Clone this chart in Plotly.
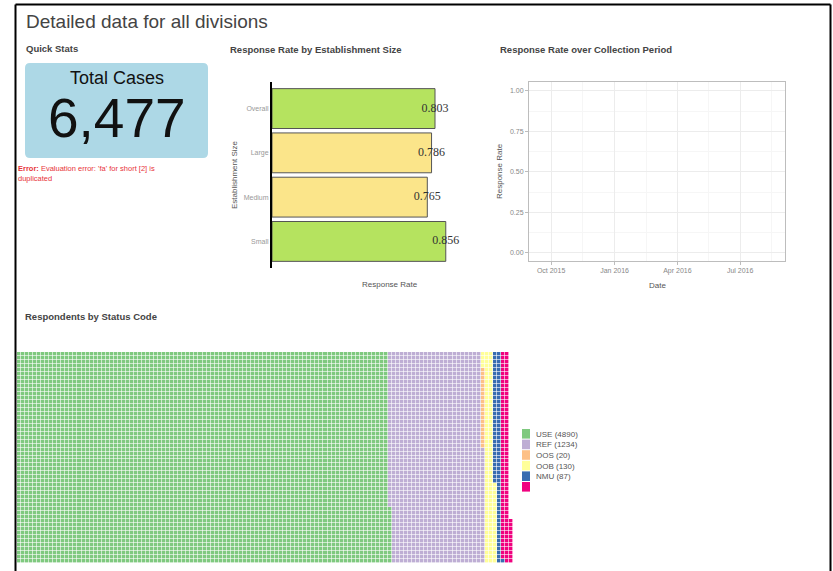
import plotly.graph_objects as go
import numpy as np

# ---------------- data ----------------
page_title = "Detailed data for all divisions"
total_cases = 6477

size_categories = ["Overall", "Large", "Medium", "Small"]
size_rates = [0.803, 0.786, 0.765, 0.856]
rate_threshold = 0.8

collection_dates = []      # no points drawn in the reference
collection_rates = []
date_ticks = ["2015-10-01", "2016-01-01", "2016-04-01", "2016-07-01"]
date_range = ["2015-08-30", "2016-09-04"]

status_codes = ["USE", "REF", "OOS", "OOB", "NMU", ""]
status_counts = [4890, 1234, 20, 130, 87, 116]
status_colors = ["#7fc97f", "#beaed4", "#fdc086", "#ffff99", "#386cb0", "#f0027f"]
waffle_rows = 53

# ---------------- helpers ----------------
W, H = 833, 571
def X(px): return px / W
def Y(py): return 1 - py / H
FONT = "Liberation Sans, Arial, sans-serif"

fig = go.Figure()

# ---- bar chart ----
bar_colors = ["#b5e35f" if r >= rate_threshold else "#fbe58a" for r in size_rates]
fig.add_trace(go.Bar(
    x=size_rates, y=size_categories, orientation="h",
    marker=dict(color=bar_colors, line=dict(color="#555555", width=1)),
    width=0.9, xaxis="x", yaxis="y", hoverinfo="skip", showlegend=False))
fig.add_trace(go.Scatter(
    x=size_rates, y=size_categories, mode="text",
    text=[f"{r:.3f}" for r in size_rates], textposition="middle center",
    textfont=dict(family="Liberation Serif, Times New Roman, serif", size=12, color="#333"),
    xaxis="x", yaxis="y", hoverinfo="skip", showlegend=False))

# ---- empty time series ----
fig.add_trace(go.Scatter(x=collection_dates, y=collection_rates, mode="lines",
                         xaxis="x2", yaxis="y2", showlegend=False))

# ---- waffle ----
cells = []
for i, c in enumerate(status_counts):
    cells += [i] * c
ncols = int(np.ceil(len(cells) / waffle_rows))
z = np.full((waffle_rows, ncols), np.nan)
for k, v in enumerate(cells):
    col, row = divmod(k, waffle_rows)
    z[row, col] = v
n = len(status_colors)
cs = []
for i, c in enumerate(status_colors):
    cs.append([i / n, c]); cs.append([(i + 1) / n, c])
fig.add_trace(go.Heatmap(z=z, colorscale=cs, zmin=-0.5, zmax=n - 0.5, showscale=False,
                         xgap=0.6, ygap=0.6, xaxis="x3", yaxis="y3", hoverinfo="skip"))

# ---------------- layout ----------------
px_per_unit = 203
fig.update_layout(
    width=W, height=H, margin=dict(l=0, r=0, t=0, b=0),
    paper_bgcolor="white", plot_bgcolor="white",
    font=dict(family=FONT),
    xaxis=dict(domain=[X(272), X(460)], range=[0, (460 - 272) / px_per_unit],
               showticklabels=False, showgrid=False, zeroline=False, showline=False,
               anchor="y", fixedrange=True),
    yaxis=dict(domain=[Y(268), Y(82)], type="category",
               categoryorder="array", categoryarray=size_categories[::-1],
               range=[-0.6, 3.6], showline=True, linecolor="black", linewidth=2,
               ticks="", showgrid=False, zeroline=False,
               tickfont=dict(size=7, color="#999999"), anchor="x"),
    xaxis2=dict(domain=[X(529), X(785)], type="date", range=date_range,
                tickvals=date_ticks, tickformat="%b %Y",
                tickfont=dict(size=7, color="#888888"),
                showgrid=True, gridcolor="#ececec", gridwidth=1,
                minor=dict(showgrid=True, gridcolor="#f6f6f6", dtick="M3", tick0="2015-08-16"),
                showline=True, mirror=True, linecolor="#bdbdbd", linewidth=1,
                ticks="outside", ticklen=3, tickcolor="#bdbdbd",
                zeroline=False, anchor="y2"),
    yaxis2=dict(domain=[Y(261), Y(82)], range=[-0.05, 1.055],
                tickvals=[0, 0.25, 0.5, 0.75, 1.0], tickformat=".2f",
                tickfont=dict(size=7, color="#888888"),
                showgrid=True, gridcolor="#ececec",
                minor=dict(showgrid=True, gridcolor="#f6f6f6", dtick=0.125, tick0=0.125),
                showline=True, mirror=True, linecolor="#bdbdbd", linewidth=1,
                ticks="outside", ticklen=3, tickcolor="#bdbdbd",
                zeroline=False, anchor="x2"),
    xaxis3=dict(domain=[X(17), X(513)], range=[-0.5, ncols - 0.5], visible=False, anchor="y3"),
    yaxis3=dict(domain=[Y(563), Y(352)], range=[-0.5, waffle_rows - 0.5], visible=False, anchor="x3"),
    showlegend=False,
)

ann = []
def text(x, y, s, size, color="#444", xanchor="left", bold=False, angle=0, family=FONT):
    ann.append(dict(x=X(x), y=Y(y), xref="paper", yref="paper", text=(f"<b>{s}</b>" if bold else s),
                    showarrow=False, xanchor=xanchor, yanchor="middle", textangle=angle,
                    font=dict(size=size, color=color, family=family)))

text(24, 21, page_title, 19, "#444")
text(24, 49, "Quick Stats", 9.5, "#444", bold=True)
text(228, 50, "Response Rate by Establishment Size", 9.5, "#444", bold=True)
text(498, 50, "Response Rate over Collection Period", 9.5, "#444", bold=True)
text(23, 316, "Respondents by Status Code", 9.5, "#444", bold=True)
text(116.5, 78, "Total Cases", 18, "#111", xanchor="center")
text(116.5, 118, f"{total_cases:,}", 55, "#111", xanchor="center")
text(16, 168, "<b>Error:</b> Evaluation error: 'fa' for short [2] is", 7.5, "#e8333a")
text(16, 179, "duplicated", 7.5, "#e8333a")
text(390, 284, "Response Rate", 8, "#555", xanchor="center")
text(234, 175, "Establishment Size", 8, "#555", xanchor="center", angle=-90)
text(657, 285, "Date", 8, "#555", xanchor="center")
text(499, 171, "Response Rate", 8, "#555", xanchor="center", angle=-90)

shapes = []
# rounded light blue box
x0, x1, y0, y1, r = X(25), X(208), Y(158), Y(63), 5
rx, ry = r / W, r / H
path = (f"M {x0+rx},{y1} L {x1-rx},{y1} Q {x1},{y1} {x1},{y1-ry} L {x1},{y0+ry} "
        f"Q {x1},{y0} {x1-rx},{y0} L {x0+rx},{y0} Q {x0},{y0} {x0},{y0+ry} "
        f"L {x0},{y1-ry} Q {x0},{y1} {x0+rx},{y1} Z")
shapes.append(dict(type="path", path=path, xref="paper", yref="paper",
                   fillcolor="#add8e6", line=dict(width=0), layer="below"))

# waffle legend
pitch = 10.6
for i, (code, cnt, col) in enumerate(zip(status_codes, status_counts, status_colors)):
    top = 429 + i * pitch
    shapes.append(dict(type="rect", xref="paper", yref="paper",
                       x0=X(522), x1=X(530), y0=Y(top + pitch - 1), y1=Y(top),
                       fillcolor=col, line=dict(width=0)))
    if code:
        text(534, top + pitch / 2, f"{code} ({cnt})", 8, "#555")

# page frame
for (xa, ya, xb, yb) in [(15.5, 4.5, 15.5, 575), (15.5, 4.5, 830.5, 4.5), (830.5, 4.5, 830.5, 575)]:
    shapes.append(dict(type="line", xref="paper", yref="paper", x0=X(xa), y0=Y(ya), x1=X(xb), y1=Y(yb),
                       line=dict(color="black", width=2)))

fig.update_layout(annotations=ann, shapes=shapes)
fig.write_html("out.html", config={"displayModeBar": False},
               post_script="document.body.style.margin='0';document.body.style.overflow='hidden';")
